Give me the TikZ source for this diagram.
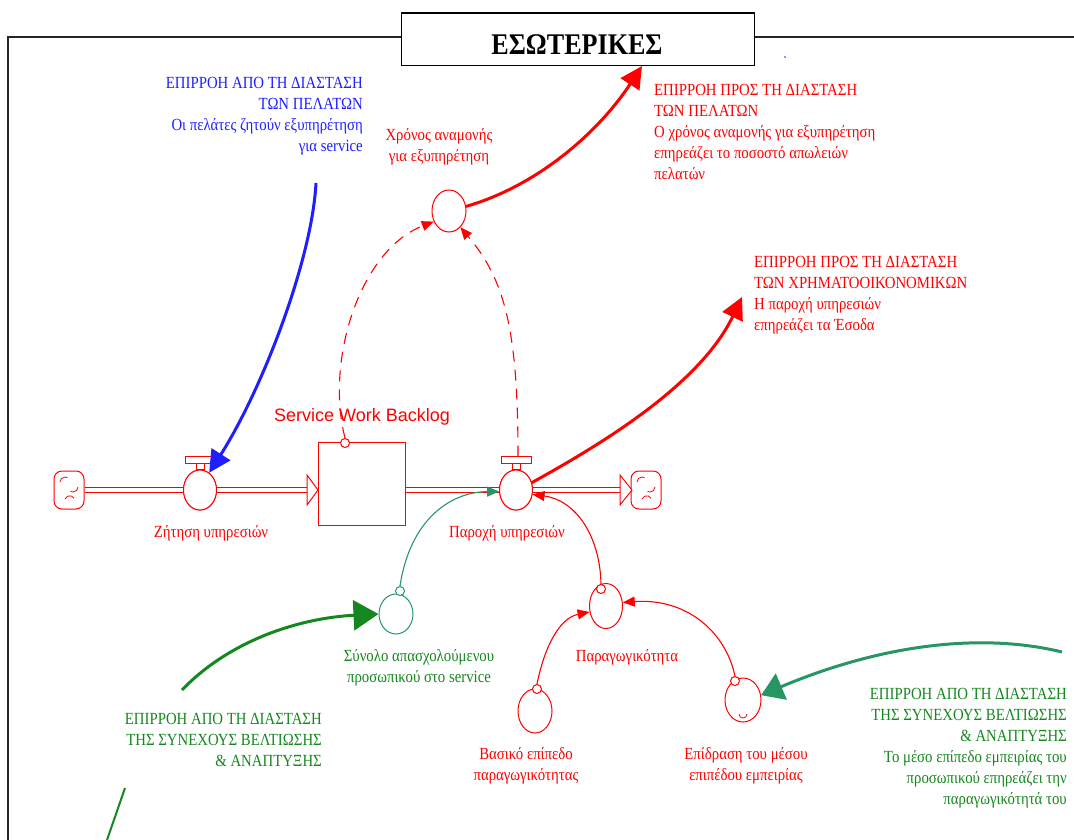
\documentclass[tikz,border=0pt]{standalone}
\usepackage{fontspec}
\setmainfont{Liberation Serif}
\newfontfamily\grf[FakeStretch=0.87]{Liberation Serif}
\newfontfamily\sansf{Liberation Sans}
\usetikzlibrary{arrows.meta,shapes.geometric,calc}
\definecolor{myred}{RGB}{255,0,0}
\definecolor{myblue}{RGB}{30,30,255}
\definecolor{mygreen}{RGB}{20,135,30}
\definecolor{myteal}{RGB}{40,150,100}
\begin{document}
\begin{tikzpicture}[x=1pt,y=-1pt,
  txt/.style={font=\grf\fontsize{17}{21}\selectfont, inner sep=0pt},
  valve/.style={draw=myred, ellipse, minimum width=33pt, minimum height=40pt, inner sep=0pt, line width=1pt},
  aux/.style={draw=myred, ellipse, minimum width=34pt, minimum height=42pt, inner sep=0pt, line width=1pt},
  smallc/.style={draw=myred, circle, minimum size=9pt, inner sep=0pt, line width=1pt, fill=white},
  cloud/.style={draw=myred, rectangle, rounded corners=8pt, minimum width=30pt, minimum height=38pt, line width=1pt},
  pipe/.style={draw=myred, double=white, double distance=4pt, line width=1pt},
  bigarrow/.style={line width=3pt, -{Triangle[length=22pt,width=22pt]}},
  thin/.style={line width=1.1pt, -{Triangle[length=12pt,width=10pt]}},
  dashc/.style={thin, dash pattern=on 11pt off 8pt},
]
\useasboundingbox (0,0) rectangle (1074,840);

% frame
\draw[line width=2.5pt, black!85] (8,840) -- (8,37) -- (401,37);
\draw[line width=2.5pt, black!85] (754,37) -- (1074,37);
\node[draw, line width=1.2pt, minimum width=353pt, minimum height=52pt, anchor=north west, inner sep=0pt, fill=white] (tbox) at (401,13) {};
\draw[line width=2.5pt] (tbox.north west) -- (tbox.north east);
\node[font=\grf\bfseries\fontsize{30}{30}\selectfont, inner sep=0pt] (title) at (577,45) {ΕΣΩΤΕΡΙΚΕΣ};
\fill[myblue] (785,57) circle (0.8pt);

% stock and flows
\node[cloud] (cL) at (69,490) {};
\node[cloud] (cR) at (646,490) {};
\foreach \c in {cL,cR}{
  \draw[myred, line width=0.8pt] ($(\c.center)+(-9,-8)$) arc (180:300:5);
  \draw[myred, line width=0.8pt] ($(\c.center)+(9,-3)$) arc (0:120:5);
  \draw[myred, line width=0.8pt] ($(\c.center)+(-4,9)$) arc (200:330:5);
}
\node[valve] (v1) at (200,490) {};
\node[valve] (v2) at (516,490) {};
\node[draw=myred, line width=1pt, minimum width=87pt, minimum height=83pt, inner sep=0pt] (stock) at (361.5,483.5) {};
\coordinate (t1) at (307,490);
\coordinate (t2) at (620,490);
\draw[pipe] (cL.east) -- (v1.west);
\draw[pipe] (v1.east) -- (t1);
\draw[pipe] (stock.east |- v2.west) -- (v2.west);
\draw[pipe] (v2.east) -- (t2);
\node[valve, fill=white] at (v1) {};
\node[valve, fill=white] at (v2) {};
\draw[myred, line width=1pt, fill=white] ($(t1)+(0,-15)$) -- ($(t1)+(11,0)$) -- ($(t1)+(0,15)$) -- cycle;
\draw[myred, line width=1pt, fill=white] ($(t2)+(0,-15)$) -- ($(t2)+(12,0)$) -- ($(t2)+(0,15)$) -- cycle;
\foreach \v in {v1,v2}{
  \draw[myred, line width=1pt] ($(\v.north)+(-15,-13)$) rectangle ($(\v.north)+(15,-6)$);
  \draw[myred, line width=1pt] ($(\v.north)+(-4,-6)$) rectangle ($(\v.north)+(4,0)$);
}
\node[smallc] (sc) at (345,443) {};
\node[font=\sansf\fontsize{18}{18}\selectfont, text=myred, inner sep=1pt, fill=white] (swb) at (362,417) {Service Work Backlog};
\node[txt, text=myred] (zlab) at (211,533) {Ζήτηση υπηρεσιών};
\node[txt, text=myred] (plab) at (507,533) {Παροχή υπηρεσιών};

% waiting time
\node[aux] (chr) at (449,211) {};
\node[txt, text=myred, align=center] (chrlab) at (439,147) {Χρόνος αναμονής\\για εξυπηρέτηση};
\draw[dashc, myred] (sc.north) .. controls (325,360) and (360,250) .. (chr.-145);
\draw[dashc, myred] ($(v2.north)+(2,-13)$) .. controls (518,330) and (505,280) .. (chr.-55);

% productivity sector
\node[draw=myteal, ellipse, minimum width=34pt, minimum height=40pt, inner sep=0pt, line width=1pt] (syn) at (396,614) {};
\node[smallc, draw=myteal] (synsc) at (400,591) {};
\node[txt, text=mygreen, align=center] (synlab) at (419,668) {Σύνολο απασχολούμενου\\προσωπικού στο service};
\node[aux, minimum width=33pt, minimum height=45pt] (prod) at (606,606) {};
\node[smallc] (prodsc) at (601,589) {};
\node[txt, text=myred] (prodlab) at (627,657) {Παραγωγικότητα};
\node[aux, minimum height=44pt] (bas) at (535,711) {};
\node[smallc] (bassc) at (537,689) {};
\node[txt, text=myred, align=center] (baslab) at (526,766) {Βασικό επίπεδο\\παραγωγικότητας};
\node[aux, minimum width=36pt, minimum height=44pt] (epi) at (743,700) {};
\node[smallc] (episc) at (735,681) {};
\draw[myred, line width=0.8pt] ($(epi.center)+(-4,14)$) arc (180:0:4);
\node[txt, text=myred, align=center] (epilab) at (746,766) {Επίδραση του μέσου\\επιπέδου εμπειρίας};

\draw[thin, myteal] (synsc.north) .. controls (410,520) and (450,492) .. (v2.185);
\draw[thin, myred] (prodsc.north) .. controls (600,535) and (575,500) .. (v2.-15);
\draw[thin, myred] (bassc.north) .. controls (545,645) and (560,618) .. (prod.200);
\draw[thin, myred] (episc.north) .. controls (725,630) and (685,598) .. (prod.12);

% influence arrows
\coordinate (bS) at (316,183);
\draw[bigarrow, myblue] (bS) .. controls (312,260) and (262,390) .. (v1.62);
\node[txt, text=myblue, align=right, anchor=north east] (btxt) at (363,77) {ΕΠΙΡΡΟΗ ΑΠΟ ΤΗ ΔΙΑΣΤΑΣΗ\\ΤΩΝ ΠΕΛΑΤΩΝ\\Οι πελάτες ζητούν εξυπηρέτηση\\για service};

\coordinate (rT) at (642,66);
\draw[bigarrow, myred] (chr.15) .. controls (540,185) and (600,130) .. (rT);
\node[txt, text=myred, align=left, anchor=north west] (rtxt) at (654,84) {ΕΠΙΡΡΟΗ ΠΡΟΣ ΤΗ ΔΙΑΣΤΑΣΗ\\ΤΩΝ ΠΕΛΑΤΩΝ\\Ο χρόνος αναμονής για εξυπηρέτηση\\επηρεάζει το ποσοστό απωλειών\\πελατών};

\coordinate (rM) at (742,297);
\draw[bigarrow, myred] (v2.25) .. controls (600,445) and (700,385) .. (rM);
\node[txt, text=myred, align=left, anchor=north west] (mtxt) at (754,256) {ΕΠΙΡΡΟΗ ΠΡΟΣ ΤΗ ΔΙΑΣΤΑΣΗ\\ΤΩΝ ΧΡΗΜΑΤΟΟΙΚΟΝΟΜΙΚΩΝ\\Η παροχή υπηρεσιών\\επηρεάζει τα Έσοδα};

\coordinate (gL) at (182,690);
\draw[bigarrow, mygreen, -{Triangle[length=25pt,width=30pt]}] (gL) .. controls (230,640) and (300,618) .. (syn.west);
\node[txt, text=mygreen, align=right, anchor=north east] (gltxt) at (322,713) {ΕΠΙΡΡΟΗ ΑΠΟ ΤΗ ΔΙΑΣΤΑΣΗ\\ΤΗΣ ΣΥΝΕΧΟΥΣ ΒΕΛΤΙΩΣΗΣ\\\& ΑΝΑΠΤΥΞΗΣ};
\coordinate (gB1) at (125,788);
\coordinate (gB2) at (107,840);
\draw[mygreen, line width=2pt] (gB1) -- (gB2);

\coordinate (gR) at (1062,652);
\draw[bigarrow, myteal, -{Triangle[length=22pt,width=28pt]}] (gR) .. controls (980,632) and (880,645) .. (epi.15);
\node[txt, text=mygreen, align=right, anchor=north east] (grtxt) at (1067,688) {ΕΠΙΡΡΟΗ ΑΠΟ ΤΗ ΔΙΑΣΤΑΣΗ\\ΤΗΣ ΣΥΝΕΧΟΥΣ ΒΕΛΤΙΩΣΗΣ\\\& ΑΝΑΠΤΥΞΗΣ\\Το μέσο επίπεδο εμπειρίας του\\προσωπικού επηρεάζει την\\παραγωγικότητά του};
\end{tikzpicture}
\end{document}
